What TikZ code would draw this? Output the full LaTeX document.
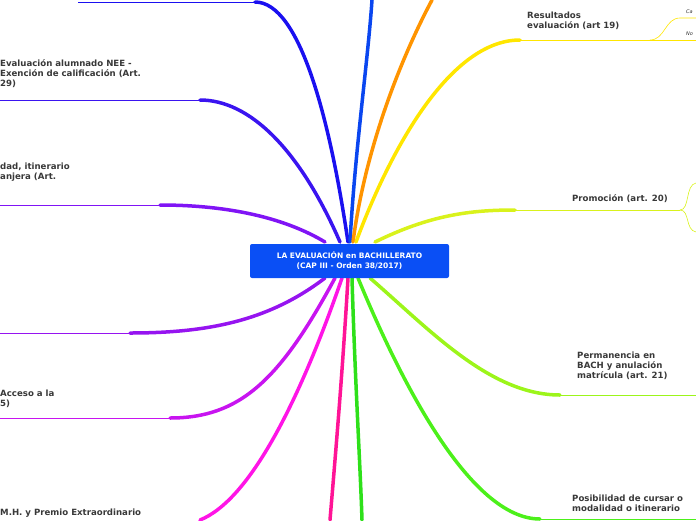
\documentclass[tikz,border=0pt]{standalone}
\usepackage{fontspec}
\setmainfont{DejaVu Sans}
\tikzset{
    branch/.style = {
        line width=3.5pt,
        line cap=round,
        },
    topic/.style = {
        line width=1pt,
        },
    sub/.style = {
        line width=0.6pt,
        },
    topic text/.style = {
        font=\bfseries\fontsize{8.6}{10}\selectfont,
        text=black!78,
        inner sep=0pt,
        align=left,
        },
    small text/.style = {
        font=\itshape\fontsize{5}{5.5}\selectfont,
        text=black!80,
        inner sep=0pt,
        },
}
\definecolor{cRoot}{HTML}{0A4FF5}
\definecolor{cBlueA}{HTML}{1A10F0}
\definecolor{cBlueB}{HTML}{0A46F0}
\definecolor{cOrange}{HTML}{FF9400}
\definecolor{cYellow}{HTML}{FFE600}
\definecolor{cYellowG}{HTML}{D9F21C}
\definecolor{cLime}{HTML}{9CF51A}
\definecolor{cGreenA}{HTML}{4CF01A}
\definecolor{cGreenB}{HTML}{2EE01A}
\definecolor{cPinkA}{HTML}{FF1496}
\definecolor{cMagenta}{HTML}{FF14E6}
\definecolor{cVioletA}{HTML}{C814F0}
\definecolor{cVioletB}{HTML}{9614F0}
\definecolor{cVioletC}{HTML}{8014F5}
\definecolor{cIndigo}{HTML}{3A14F0}
\begin{document}
\begin{tikzpicture}[x=1pt,y=-1pt]
    \useasboundingbox (0,0) rectangle (696,520);

    % branches
    \draw[branch,cBlueA] (348,242) .. controls (330,120) and (300,2) .. (255,2) coordinate (tA);
    \draw[topic,cBlueA] (tA) -- (78,2);
    \draw[branch,cBlueB] (350,242) .. controls (355,150) and (368,60) .. (372,0);
    \draw[branch,cOrange] (353,242) .. controls (365,150) and (400,60) .. (432,0);
    \draw[branch,cYellow] (356,242) .. controls (390,150) and (450,40) .. (520,40) coordinate (tRes);
    \draw[topic,cYellow] (tRes) -- (650,40) coordinate (sRes);
    \draw[sub,cYellow] (sRes) .. controls (665,40) and (665,18) .. (680,18) -- (696,18);
    \draw[sub,cYellow] (sRes) -- (696,40);
    \draw[branch,cYellowG] (375,242) .. controls (430,215) and (470,210) .. (515,210) coordinate (tPro);
    \draw[topic,cYellowG] (tPro) -- (680,210) coordinate (sPro);
    \draw[sub,cYellowG] (sPro) .. controls (690,210) and (685,185) .. (696,183);
    \draw[sub,cYellowG] (sPro) .. controls (690,210) and (685,230) .. (696,232);
    \draw[branch,cLime] (370,278) .. controls (430,330) and (490,395) .. (560,395) coordinate (tPer);
    \draw[topic,cLime] (tPer) -- (696,395);
    \draw[branch,cGreenA] (358,278) .. controls (400,380) and (470,519) .. (540,519) coordinate (tPos);
    \draw[topic,cGreenA] (tPos) -- (696,519);
    \draw[branch,cGreenB] (352,278) .. controls (355,380) and (360,460) .. (362,520);
    \draw[branch,cPinkA] (348,278) .. controls (342,380) and (335,460) .. (330,520);
    \draw[branch,cMagenta] (342,278) .. controls (300,400) and (250,500) .. (200,520);
    \draw[branch,cVioletA] (335,278) .. controls (280,380) and (240,418) .. (170,418) coordinate (tAcc);
    \draw[topic,cVioletA] (tAcc) -- (0,418);
    \draw[branch,cVioletB] (325,278) .. controls (270,320) and (210,333) .. (130,333) coordinate (tMat);
    \draw[topic,cVioletB] (tMat) -- (0,333);
    \draw[branch,cVioletC] (325,242) .. controls (280,215) and (220,205) .. (160,205) coordinate (tMod);
    \draw[topic,cVioletC] (tMod) -- (0,205);
    \draw[branch,cIndigo] (340,242) .. controls (300,150) and (250,100) .. (200,100) coordinate (tNee);
    \draw[topic,cIndigo] (tNee) -- (0,100);

    % root
    \node[fill=cRoot, rounded corners=2pt, minimum width=199pt, minimum height=34pt,
          text=white, font=\bfseries\fontsize{7.5}{10}\selectfont, align=center]
          (root) at (349.5,261) {LA EVALUACIÓN en BACHILLERATO\\(CAP III - Orden 38/2017)};

    % texts
    \node[topic text, anchor=north west] (res) at (527,12) {Resultados\\evaluación (art 19)};
    \node[small text, anchor=west] (ca) at (686,12) {Ca};
    \node[small text, anchor=west] (no) at (686,34) {No};
    \node[topic text, anchor=east] (pro) at (668,199) {Promoción (art. 20)};
    \node[topic text, anchor=north west] (per) at (577,352) {Permanencia en\\BACH y anulación\\matrícula (art. 21)};
    \node[topic text, anchor=north west] (pos) at (572,495) {Posibilidad de cursar o\\modalidad o itinerario};
    \node[topic text, anchor=north west] (nee) at (0,59) {Evaluación alumnado NEE -\\Exención de calificación (Art.\\29)};
    \node[topic text, anchor=north west] (mod) at (0,163) {dad, itinerario\\anjera (Art.};
    \node[topic text, anchor=north west] (acc) at (0,390) {Acceso a la\\5)};
    \node[topic text, anchor=west] (mh) at (0,513) {M.H. y Premio Extraordinario};
\end{tikzpicture}
\end{document}
